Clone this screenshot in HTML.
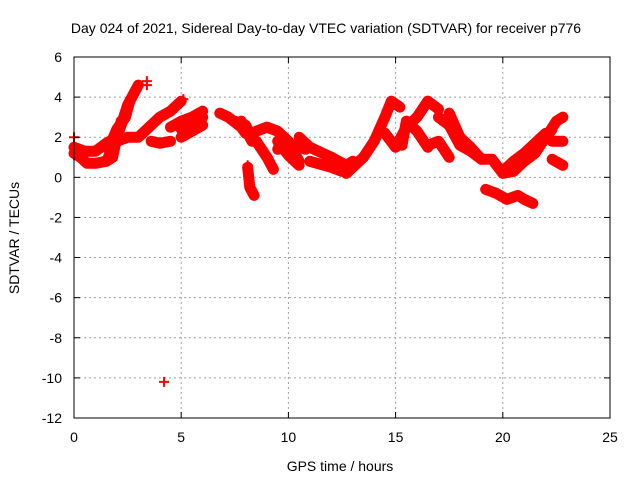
<!DOCTYPE html>
<html><head><meta charset="utf-8"><style>
body{margin:0;background:#fff}
svg{display:block;font-family:"Liberation Sans",sans-serif}
</style></head><body>
<svg id="chart" width="640" height="480" xmlns="http://www.w3.org/2000/svg">
<text x="326" y="33" font-size="14" text-anchor="middle">Day 024 of 2021, Sidereal Day-to-day VTEC variation (SDTVAR) for receiver p776</text>
<text x="340" y="471" font-size="14" text-anchor="middle">GPS time / hours</text>
<text x="19" y="238" font-size="14" text-anchor="middle" transform="rotate(-90 19 238)">SDTVAR / TECUs</text>
<g id="grid"></g>
<g id="marks"></g>
<rect x="74" y="57" width="536" height="361" fill="none" stroke="#000" stroke-width="1"/>
<g id="ticks"></g>
</svg>
<script>
const xTicks=[0,5,10,15,20,25];
const yTicks=[6,4,2,0,-2,-4,-6,-8,-10,-12];
const trackA=[[0,1.2],[0.3,1.0],[0.6,0.7],[1,0.7],[1.5,0.8],[1.8,1.0]];
const trackB=[[0,1.5],[0.5,1.3],[1,1.3],[1.5,1.7],[2,2.0],[2.2,2.6],[2.5,3.6],[2.8,4.2],[3.0,4.6]];
const trackC=[[1.5,0.8],[2,1.8],[2.5,2.0],[3,2.0],[3.5,2.5],[4,3.0],[4.5,3.3],[5,3.8]];
const trackD=[[1.8,1.0],[2,2.0],[2.2,2.8]];
const trackE=[[3.6,1.8],[4,1.7],[4.5,1.8]];
const trackF=[[4.5,2.5],[5,2.8],[5.5,3.0],[6,3.3]];
const trackG=[[5,2.0],[5.5,2.3],[6,2.6]];
const trackH=[[6.8,3.2],[7.2,3.0],[7.8,2.5],[8,2.2]];
const trackI=[[8.1,0.5],[8.2,-0.5],[8.4,-0.9]];
const trackJ=[[7.8,2.8],[8.3,1.8]];
const trackK=[[8.5,1.8],[9,1.0],[9.3,0.4]];
const trackL=[[8.5,2.3],[9,2.5],[9.5,2.3],[10,1.8],[10.5,0.8]];
const trackM=[[9.5,1.8],[10,1.1],[10.5,0.6]];
const trackN=[[10.5,2.0],[11,1.5],[12,1.0],[12.7,0.2],[13.5,1.0],[14,1.8],[14.5,3.0],[14.8,3.8],[15.2,3.5]];
const trackO=[[11,0.8],[12,0.5],[12.5,0.3]];
const trackP=[[12,1.0],[12.7,0.6],[13,0.8]];
const trackQ=[[14.5,2.2],[15,1.5],[15.5,2.5],[16,3.0],[16.5,3.8],[17,3.4]];
const trackR=[[15.3,1.6],[15.5,2.8],[16,2.3],[16.5,1.5]];
const trackS=[[17,3.0],[17.5,2.6],[18,1.6],[18.5,1.3],[19,0.9],[19.5,0.9],[20,0.2],[20.5,0.3],[21,0.8],[21.5,1.2],[22,2.0],[22.3,2.4]];
const trackT=[[16.5,1.6],[17,1.8],[17.5,1.0]];
const trackU=[[17.5,3.2],[18,2.0],[18.5,1.5],[19,0.9]];
const trackV=[[20,0.3],[20.5,0.8],[21,1.2],[21.5,1.7],[22,2.2]];
const trackW=[[19.2,-0.6],[19.7,-0.8],[20.2,-1.1],[20.7,-0.9],[21,-1.1],[21.4,-1.3]];
const trackX=[[22.2,2.3],[22.5,2.8],[22.8,3.0]];
const trackY=[[22.3,1.8],[22.8,1.8]];
const trackZ=[[22.3,0.9],[22.8,0.6]];
const trackAA=[[1.6,1.4],[2.0,2.4],[2.4,3.0],[2.6,3.8]];
const trackAB=[[5.0,2.4],[5.5,2.6],[6.0,3.0]];
const trackAC=[[7.5,2.8],[8.0,2.6],[8.3,2.0]];
const trackAD=[[9.5,1.4],[10.2,1.6],[10.8,1.4]];
const outliers=[[4.2,-10.2],[3.4,4.8],[3.4,4.6],[0,2.0],[0,1.1],[5.1,3.9],[8.1,0.6]];
const tracks=[trackA,trackB,trackC,trackD,trackE,trackF,trackG,trackH,trackI,trackJ,trackK,trackL,trackM,trackN,trackO,trackP,trackQ,trackR,trackS,trackT,trackU,trackV,trackW,trackX,trackY,trackZ,trackAA,trackAB,trackAC,trackAD];

const X0=74,X1=610,Y0=418,Y1=57;
const sx=v=>X0+(v-0)/(25-0)*(X1-X0);
const sy=v=>Y0-(v+12)/(6+12)*(Y0-Y1);
const NS="http://www.w3.org/2000/svg";
const grid=document.getElementById('grid'),ticks=document.getElementById('ticks'),marks=document.getElementById('marks');
function mk(tag,attrs,parent){const e=document.createElementNS(NS,tag);for(const k in attrs)e.setAttribute(k,attrs[k]);parent.appendChild(e);return e;}
xTicks.forEach(t=>{
  const x=sx(t);
  if(t>0&&t<25){const g=mk('line',{x1:x,x2:x,y1:Y1,y2:Y0,stroke:'#a0a0a0','stroke-dasharray':'2,3'},grid);
  
  }
  mk('line',{x1:x,x2:x,y1:Y0,y2:Y0-6,stroke:'#000'},ticks);
  mk('line',{x1:x,x2:x,y1:Y1,y2:Y1+6,stroke:'#000'},ticks);
  const l=mk('text',{x:x,y:442,'font-size':14,'text-anchor':'middle'},ticks);l.textContent=t;
  
  
});
yTicks.forEach(t=>{
  const y=sy(t);
  if(t>-12&&t<6){const g=mk('line',{x1:X0,x2:X1,y1:y,y2:y,stroke:'#a0a0a0','stroke-dasharray':'2,3'},grid);
  
  }
  mk('line',{x1:X0,x2:X0+6,y1:y,y2:y,stroke:'#000'},ticks);
  mk('line',{x1:X1,x2:X1-6,y1:y,y2:y,stroke:'#000'},ticks);
  const l=mk('text',{x:62,y:y+5,'font-size':14,'text-anchor':'end'},ticks);l.textContent=t;
  
  
});
function plus(x,y){
  const p=mk('path',{d:`M${x-5},${y}h10M${x},${y-5}v10`,stroke:'#f00','stroke-width':2,fill:'none'},marks);
  
  
}
tracks.forEach(tr=>{
  const pl=mk('polyline',{points:tr.map(p=>sx(p[0])+','+sy(p[1])).join(' '),fill:'none',stroke:'#f00','stroke-width':11,'stroke-linejoin':'round','stroke-linecap':'round'},marks);
  
  
  tr.forEach(p=>plus(sx(p[0]),sy(p[1])));
});
outliers.forEach(p=>plus(sx(p[0]),sy(p[1])));
</script>
</body></html>
